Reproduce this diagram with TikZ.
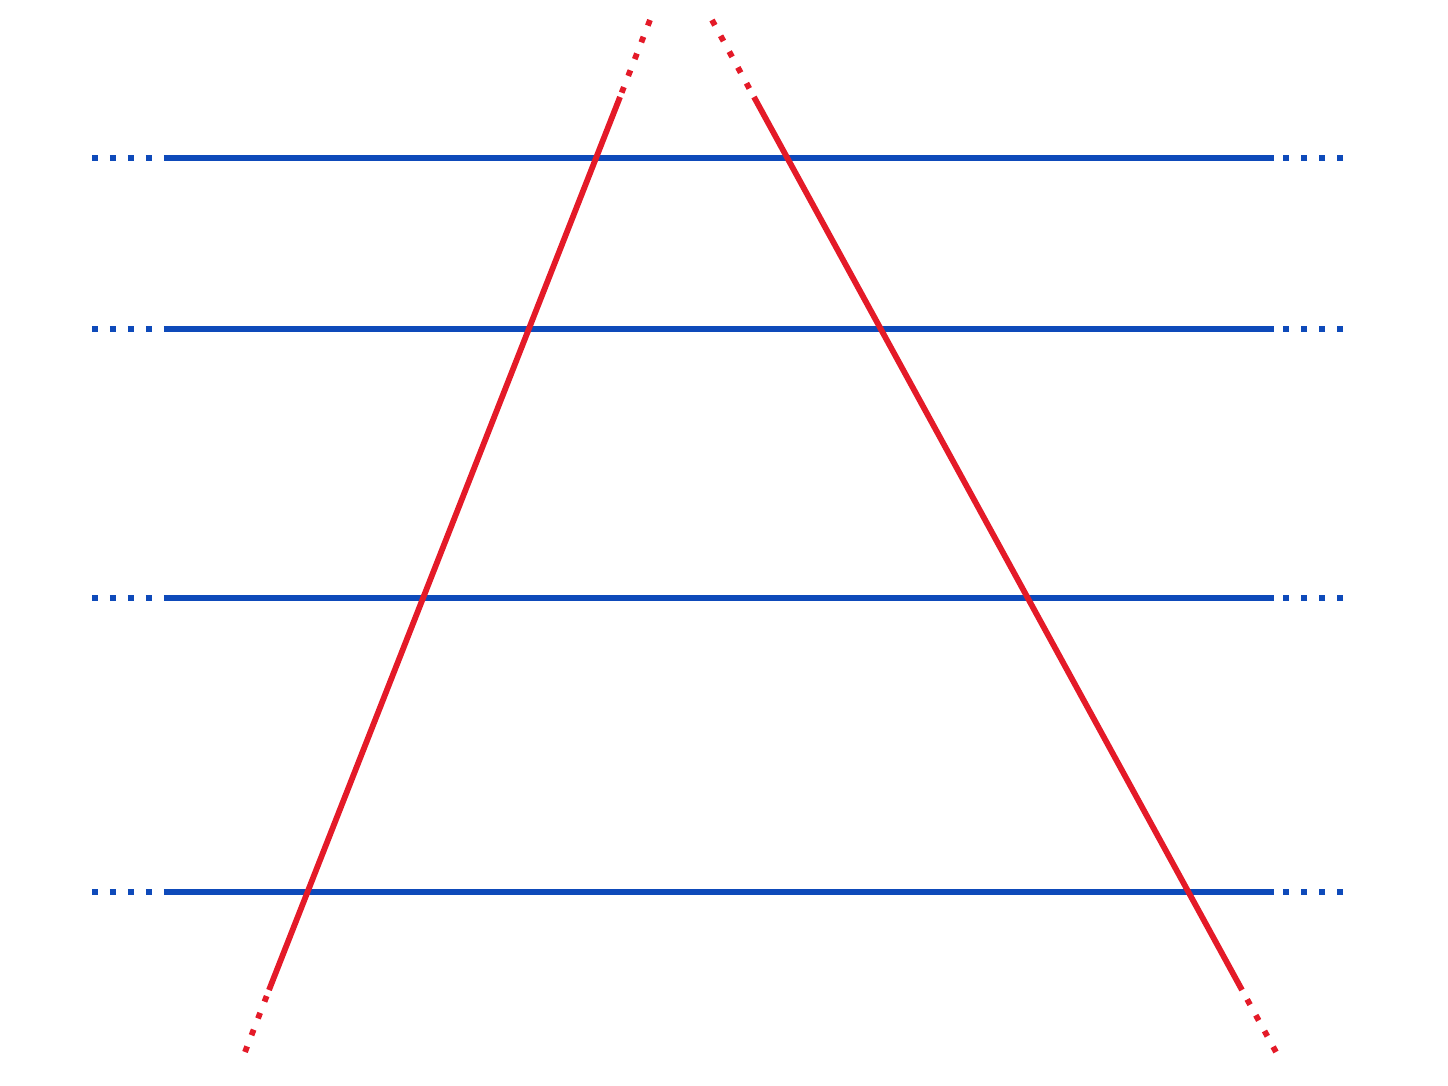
\documentclass[tikz,border=0pt]{standalone}
\definecolor{lineblue}{RGB}{14,74,186}
\definecolor{linered}{RGB}{228,26,40}
\tikzset{
  levelline/.style={lineblue, line width=3.4pt},
  sideline/.style={linered, line width=3.3pt},
  dotend/.style={dash pattern=on 0.12cm off 0.24cm},
}
\begin{document}
\begin{tikzpicture}[x=0.02cm,y=-0.02cm]
      \useasboundingbox (0,0) rectangle (1448,1086);
      % horizontal lines
      \foreach \y [count=\i] in {158,329,598,892} {
        \coordinate (l\i) at (92,\y);
        \coordinate (ls\i) at (164,\y);
        \coordinate (rs\i) at (1274,\y);
        \coordinate (r\i) at (1343,\y);
        \draw[levelline] (ls\i) -- (rs\i);
        \draw[levelline, dotend] (l\i) -- (ls\i);
        \draw[levelline, dotend] (r\i) -- (rs\i);
      }
      % slanted lines
      \coordinate (a0) at (650,20);
      \coordinate (a1) at (620,97);
      \coordinate (a2) at (269,990);
      \coordinate (a3) at (245,1052);
      \coordinate (b0) at (712,20);
      \coordinate (b1) at (754,97);
      \coordinate (b2) at (1242,990);
      \coordinate (b3) at (1276,1052);
      \begin{scope}[sideline]
        \draw (a1) -- (a2);
        \draw (b1) -- (b2);
        \draw[dotend] (a0) -- (a1);
        \draw[dotend] (a3) -- (a2);
        \draw[dotend] (b0) -- (b1);
        \draw[dotend] (b3) -- (b2);
      \end{scope}
    \end{tikzpicture}
\end{document}
